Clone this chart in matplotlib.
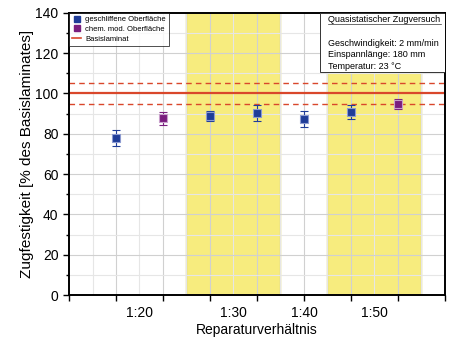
import matplotlib
matplotlib.use("Agg")
import matplotlib.pyplot as plt
from matplotlib.lines import Line2D
from matplotlib.patches import Rectangle

plt.rcParams['font.family'] = ['Liberation Sans', 'DejaVu Sans']

# data
positions   = [1, 2, 3, 4, 5, 6, 7]
strength    = [78.1, 87.7, 89.0, 90.2, 87.2, 90.7, 94.8]
errors      = [4.0, 3.3, 2.5, 4.0, 4.0, 3.5, 2.7]
surface     = ["g", "c", "g", "g", "g", "g", "c"]   # g = geschliffen, c = chem. mod.
ratio_pos   = [1.5, 3.5, 5.0, 6.5]
ratio_lbls  = ["1:20", "1:30", "1:40", "1:50"]
yellow_spans = [(2.5, 4.5), (5.5, 7.5)]
base_value = 100
base_band  = (95, 105)
info_lines = ["Geschwindigkeit: 2 mm/min", "Einspannlänge: 180 mm", "Temperatur: 23 °C"]

BLUE   = "#1f3c98"
PURPLE = "#7a1e7e"
RED    = "#d9472b"

fig = plt.figure(figsize=(4.54, 3.38), dpi=100)
ax = fig.add_axes([0.152, 0.127, 0.828, 0.835])

for x0, x1 in yellow_spans:
    ax.axvspan(x0, x1, color="#f7ec7e", zorder=0)
    ax.axvline(x0, color="#888888", lw=0.8, zorder=0.5)
    ax.axvline(x1, color="#888888", lw=0.8, zorder=0.5)

# grid
for v in [i * 0.5 for i in range(1, 16)]:
    ax.axvline(v, color="#d0d0d0" if v % 1 == 0 else "#e6e6e6", lw=0.8, zorder=0.6)
for h in range(10, 140, 10):
    ax.axhline(h, color="#d0d0d0" if h % 20 == 0 else "#e6e6e6", lw=0.8, zorder=0.6)

ax.axhline(base_value, color=RED, lw=1.6, zorder=2)
for b in base_band:
    ax.axhline(b, color=RED, lw=1.0, ls=(0, (4, 3)), zorder=2)

for x, y, e, s in zip(positions, strength, errors, surface):
    c = BLUE if s == "g" else PURPLE
    ax.errorbar(x, y, yerr=e, fmt="s", color=c, ms=5.5, mec="#8c9ad0" if s == "g" else "#c9a0cc",
                mew=0.8, ecolor=c, elinewidth=0.8, capsize=3, capthick=0.8, zorder=3)

ax.set_xlim(0, 8)
ax.set_ylim(0, 140)
ax.set_yticks(range(0, 141, 20))
ax.set_yticks(range(10, 140, 20), minor=True)
ax.xaxis.remove_overlapping_locs = False
ax.set_xticks(range(0, 9))
ax.set_xticklabels([])
ax.set_xticks(ratio_pos, minor=True)
ax.set_xticklabels(ratio_lbls, minor=True)
ax.tick_params(axis="x", which="minor", length=0, labelsize=10, pad=8)
ax.tick_params(axis="x", which="major", length=4, width=1)
ax.tick_params(axis="y", which="major", length=4, width=1, labelsize=10)
ax.tick_params(axis="y", which="minor", length=2.5, width=1)
for sp in ax.spines.values():
    sp.set_linewidth(1.4)

ax.set_xlabel("Reparaturverhältnis", fontsize=10, labelpad=2)
ax.set_ylabel("Zugfestigkeit [% des Basislaminates]", fontsize=11, labelpad=1)

handles = [
    Line2D([], [], marker="s", ls="none", color=BLUE, ms=5),
    Line2D([], [], marker="s", ls="none", color=PURPLE, ms=5),
    Line2D([], [], color=RED, lw=1.2),
]
leg = ax.legend(handles, ["geschliffene Oberfläche", "chem. mod. Oberfläche", "Basislaminat"],
                loc="upper left", fontsize=5.5, frameon=True, fancybox=False,
                borderaxespad=0, handlelength=1.2, handletextpad=0.5,
                labelspacing=0.3, borderpad=0.4)
leg.get_frame().set_edgecolor("black")
leg.get_frame().set_linewidth(0.6)
leg.set_zorder(5)

# info box
box = Rectangle((0.667, 0.791), 0.333, 0.209, transform=ax.transAxes,
                fc="white", ec="#333333", lw=0.7, zorder=6)
ax.add_patch(box)
ax.text(0.69, 0.968, "Quasistatischer Zugversuch", transform=ax.transAxes,
        ha="left", va="baseline", fontsize=6.5, zorder=7)
ax.plot([0.69, 0.99], [0.961, 0.961], transform=ax.transAxes, color="#333333",
        lw=0.5, zorder=7)
for i, line in enumerate(info_lines):
    ax.text(0.69, 0.883 - i * 0.041, line, transform=ax.transAxes,
            ha="left", va="baseline", fontsize=6.5, zorder=7)

fig.savefig("out.png", dpi=100)
